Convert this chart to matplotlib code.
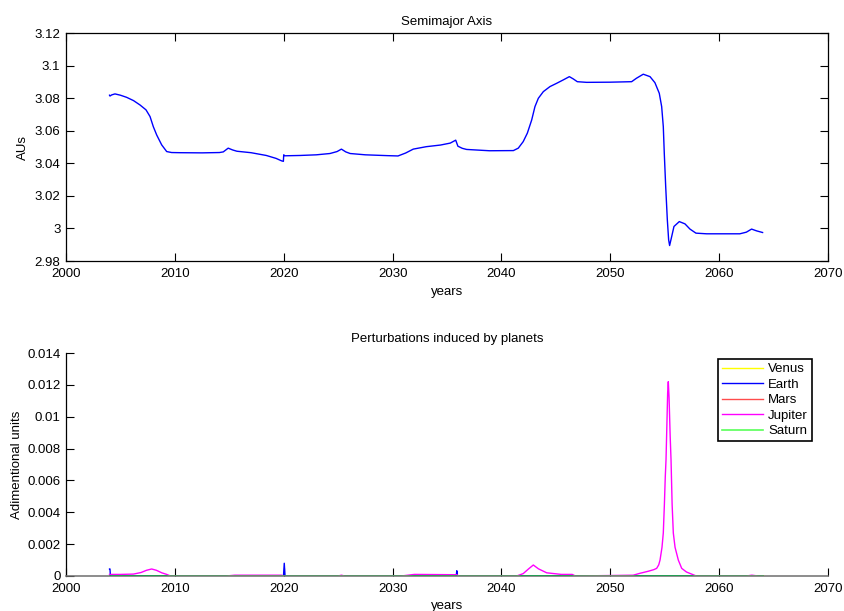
import matplotlib
matplotlib.use("Agg")
import matplotlib.pyplot as plt

plt.rcParams['font.family'] = ['Liberation Sans', 'DejaVu Sans']

# Semimajor axis of the asteroid over time (AU)
years_a = [2004.0, 2004.04, 2004.2, 2004.5, 2005.0, 2005.57, 2006.2, 2006.8, 2007.35,
           2007.72, 2008.02, 2008.33, 2008.79, 2009.25, 2009.7, 2010.5, 2012.5, 2014.1,
           2014.45, 2014.9, 2015.3, 2015.7, 2017.0, 2018.4, 2019.3, 2019.8, 2019.97,
           2020.0, 2020.1, 2021.5, 2023.0, 2024.25, 2024.9, 2025.3, 2025.7, 2026.1,
           2027.5, 2029.5, 2030.5, 2031.2, 2031.9, 2033.1, 2034.4, 2035.3, 2035.8,
           2036.0, 2036.4, 2036.8, 2038.9, 2041.1, 2041.55, 2042.0, 2042.38, 2042.78,
           2043.08, 2043.39, 2043.85, 2044.46, 2045.07, 2045.68, 2046.24, 2046.6,
           2046.97, 2047.83, 2050.0, 2051.96, 2052.4, 2053.03, 2053.65, 2054.1, 2054.5,
           2054.72, 2054.87, 2054.96, 2055.09, 2055.24, 2055.36, 2055.45, 2055.64,
           2055.85, 2056.34, 2056.86, 2057.32, 2057.87, 2058.85, 2061.9, 2062.5,
           2062.98, 2063.44, 2063.99]
semimajor = [3.0818, 3.0813, 3.0820, 3.0826, 3.0818, 3.0805, 3.0785, 3.0758, 3.0728,
             3.0687, 3.0625, 3.0574, 3.0513, 3.0472, 3.0466, 3.0465, 3.0464, 3.0466,
             3.0470, 3.0493, 3.0482, 3.0474, 3.0465, 3.0448, 3.0430, 3.0415, 3.0412,
             3.0452, 3.0446, 3.0448, 3.0452, 3.0460, 3.0472, 3.0487, 3.0470, 3.0460,
             3.0452, 3.0447, 3.0445, 3.0463, 3.0487, 3.0502, 3.0512, 3.0524, 3.0542,
             3.0505, 3.0492, 3.0485, 3.0477, 3.0478, 3.0493, 3.0533, 3.0585, 3.0666,
             3.0748, 3.0799, 3.0840, 3.0871, 3.0891, 3.0912, 3.0932, 3.0918,
             3.0901, 3.0897, 3.0898, 3.0901, 3.0922, 3.0947, 3.0932, 3.0895, 3.0830,
             3.0748, 3.0625, 3.0462, 3.0257, 3.0053, 2.9930, 2.9895, 2.9950,
             3.0012, 3.0042, 3.0028, 2.9996, 2.9971, 2.9967, 2.9967, 2.9977,
             2.9996, 2.9985, 2.9975]

# Perturbations induced by each planet (adimentional)
years_p = [2004.0, 2064.0]
venus = [0.0, 0.0]
mars = [0.0, 0.0]
saturn = [0.0, 0.0]

years_earth = [2004.0, 2004.04, 2004.08, 2019.98, 2020.05, 2020.12,
               2035.85, 2035.9, 2035.95, 2064.0]
earth = [0.00044, 0.00044, 0.0, 0.0, 0.0008, 0.0, 0.0, 0.00033, 0.0, 0.0]

years_jup = [2004.0, 2005.0, 2006.2, 2006.9, 2007.4, 2007.87, 2008.3, 2008.8, 2009.25,
             2009.6, 2014.7, 2015.5, 2019.8, 2020.0, 2025.0, 2025.3, 2025.6, 2030.8,
             2032.0, 2035.9, 2036.1, 2041.4, 2042.0, 2042.5, 2042.93, 2043.4, 2044.16,
             2045.5, 2046.5, 2046.8, 2052.1, 2052.73, 2053.5, 2054.0, 2054.26, 2054.45,
             2054.57, 2054.75, 2054.87, 2054.97, 2055.05, 2055.12, 2055.2, 2055.27,
             2055.33, 2055.4, 2055.5, 2055.58, 2055.68, 2055.79, 2055.95, 2056.25,
             2056.56, 2057.0, 2057.47, 2057.9, 2062.5, 2063.0, 2063.6, 2064.0]
jupiter = [0.0001, 0.0001, 0.00012, 0.00022, 0.00036, 0.00044, 0.00036, 0.0002, 0.0001,
           0.0, 0.0, 0.00005, 0.00005, 0.0, 0.0, 0.00005, 0.0, 0.0,
           0.0001, 0.00008, 0.0, 0.0, 0.00015, 0.00045, 0.00069, 0.00045, 0.0002,
           0.0001, 0.0001, 0.0, 0.00005, 0.00017, 0.0003, 0.0004, 0.00048, 0.0007,
           0.001, 0.0018, 0.0027, 0.0045, 0.0062, 0.0073, 0.0095, 0.0115,
           0.0122, 0.0112, 0.0088, 0.0073, 0.0045, 0.0027, 0.0018, 0.001,
           0.00048, 0.00025, 0.00012, 0.0, 0.0, 0.00005, 0.0, 0.0]

x_ticks = [2000, 2010, 2020, 2030, 2040, 2050, 2060, 2070]
a_ticks = [2.98, 3.0, 3.02, 3.04, 3.06, 3.08, 3.1, 3.12]
a_ticklabels = ['2.98', '3', '3.02', '3.04', '3.06', '3.08', '3.1', '3.12']
p_ticks = [0, 0.002, 0.004, 0.006, 0.008, 0.01, 0.012, 0.014]
p_ticklabels = ['0', '0.002', '0.004', '0.006', '0.008', '0.01', '0.012', '0.014']

fig = plt.figure(figsize=(8.44, 6.11), dpi=100)

TICK_FS = 9.5
LABEL_FS = 9.5
TITLE_FS = 9.5

# --- Semimajor axis panel ---
ax1 = fig.add_axes([66 / 844, 1 - 261 / 611, 762 / 844, 228 / 611])
ax1.plot(years_a, semimajor, color='#0000ff', lw=1.0)
ax1.set_xlim(2000, 2070)
ax1.set_ylim(2.98, 3.12)
ax1.set_xticks(x_ticks)
ax1.set_yticks(a_ticks)
ax1.set_yticklabels(a_ticklabels)
ax1.tick_params(direction='in', top=True, right=True, length=6, width=0.8,
                labelsize=TICK_FS, pad=4)
ax1.tick_params(axis='x', pad=5)
for s in ax1.spines.values():
    s.set_linewidth(0.9)
ax1.set_title('Semimajor Axis', fontsize=TITLE_FS, pad=6)
ax1.set_xlabel('years', fontsize=LABEL_FS, labelpad=4)
ax1.set_ylabel('AUs', fontsize=LABEL_FS, labelpad=4)

# --- Planetary perturbations panel ---
ax2 = fig.add_axes([66 / 844, 1 - 576 / 611, 762 / 844, 223 / 611])
ax2.plot(years_p, venus, color='#ffff00', lw=1.0, label='Venus', zorder=3)
ax2.plot(years_earth, earth, color='#0000ff', lw=1.0, label='Earth', zorder=3)
ax2.plot(years_p, mars, color='#ff0000', lw=1.0, alpha=0.7, label='Mars', zorder=3)
ax2.plot(years_jup, jupiter, color='#ff00ff', lw=1.0, label='Jupiter', zorder=3)
ax2.plot(years_p, saturn, color='#00ff00', lw=1.2, alpha=0.65, label='Saturn', zorder=3)
ax2.set_xlim(2000, 2070)
ax2.set_ylim(0, 0.014)
ax2.set_xticks(x_ticks)
ax2.set_yticks(p_ticks)
ax2.set_yticklabels(p_ticklabels)
ax2.spines['top'].set_visible(False)
ax2.spines['right'].set_visible(False)
ax2.spines['left'].set_linewidth(0.9)
ax2.spines['bottom'].set_linewidth(1.1)
ax2.spines['bottom'].set_color('#6e6e6e')
ax2.tick_params(direction='in', length=6, width=0.8, labelsize=TICK_FS, pad=4)
ax2.tick_params(axis='x', pad=5)
ax2.set_title('Perturbations induced by planets', fontsize=TITLE_FS, pad=8)
ax2.set_xlabel('years', fontsize=LABEL_FS, labelpad=4)
ax2.set_ylabel('Adimentional units', fontsize=LABEL_FS, labelpad=3)

leg = ax2.legend(loc='upper right', bbox_to_anchor=(0.979, 0.973), borderaxespad=0,
                 fontsize=TICK_FS, frameon=True, fancybox=False, framealpha=1,
                 edgecolor='black', handlelength=3.1, handletextpad=0.4,
                 labelspacing=0.25, borderpad=0.3)
leg.get_frame().set_linewidth(1.2)

fig.savefig('out.png', dpi=100)
